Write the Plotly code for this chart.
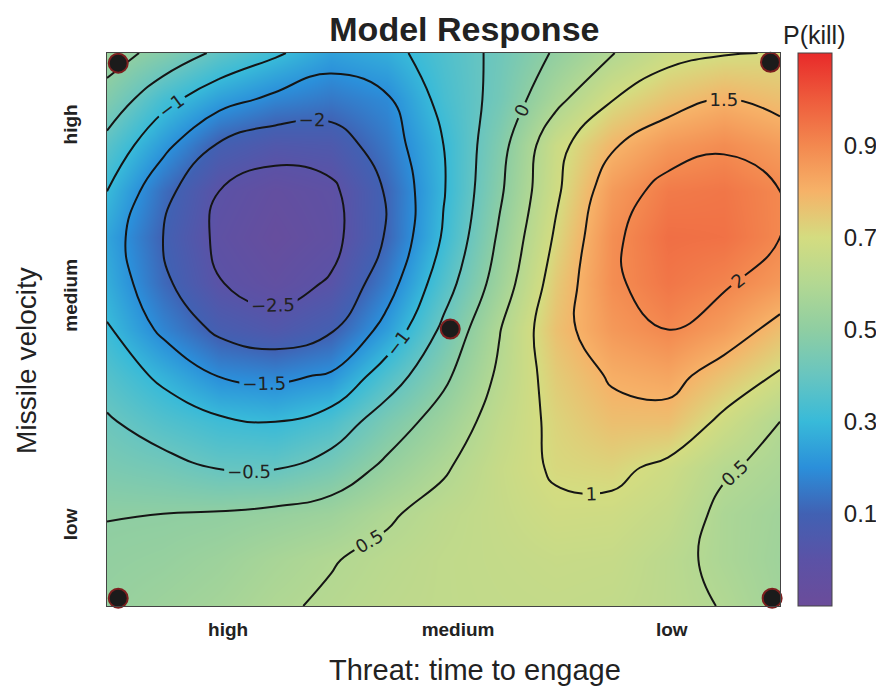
import plotly.graph_objects as go

# ---------------- data ----------------
# grid columns / rows (plot-area units: 0 = left/bottom edge, 12 = right/top edge)
x_pos = [0, 1, 2, 3, 4, 5, 6, 7, 8, 9, 10, 11, 12]
y_pos = [0, 1, 2, 3, 4, 5, 6, 7, 8, 9, 10, 11, 12]

# response surface, rows listed from the TOP edge down to the BOTTOM edge
z_top_to_bottom = [
    [0.20, -0.15, -0.60, -0.93, -1.30, -1.15, -0.75, -0.40, 0.05, 0.48, 0.86, 0.97, 1.02],
    [-0.17, -0.85, -1.31, -1.60, -1.75, -1.55, -0.84, -0.35, 0.37, 0.98, 1.30, 1.50, 1.35],
    [-0.65, -1.37, -2.05, -2.30, -2.25, -1.75, -1.00, -0.17, 0.85, 1.45, 1.80, 1.95, 1.75],
    [-1.00, -1.85, -2.50, -2.75, -2.60, -1.95, -1.03, -0.07, 0.92, 1.78, 2.15, 2.20, 2.00],
    [-1.25, -2.00, -2.60, -2.85, -2.65, -1.95, -0.95, 0.07, 1.06, 1.92, 2.28, 2.25, 2.00],
    [-1.15, -1.90, -2.48, -2.70, -2.45, -1.70, -0.72, 0.22, 1.22, 1.93, 2.20, 2.05, 1.80],
    [-0.97, -1.60, -2.10, -2.30, -2.05, -1.33, -0.40, 0.48, 1.33, 1.80, 2.00, 1.75, 1.35],
    [-0.70, -1.10, -1.52, -1.60, -1.45, -0.75, -0.10, 0.58, 1.20, 1.55, 1.65, 1.30, 0.95],
    [-0.45, -0.72, -0.92, -1.00, -0.78, -0.25, 0.20, 0.71, 1.10, 1.35, 1.35, 0.90, 0.50],
    [-0.25, -0.35, -0.52, -0.53, -0.30, 0.10, 0.45, 0.80, 1.05, 1.10, 0.90, 0.55, 0.38],
    [-0.01, 0.00, 0.03, 0.10, 0.20, 0.45, 0.65, 0.78, 0.92, 0.90, 0.75, 0.40, 0.25],
    [0.05, 0.10, 0.20, 0.35, 0.48, 0.60, 0.70, 0.75, 0.80, 0.78, 0.62, 0.40, 0.22],
    [0.10, 0.20, 0.30, 0.45, 0.55, 0.65, 0.70, 0.73, 0.75, 0.72, 0.62, 0.48, 0.25],
]
z_grid = z_top_to_bottom[::-1]

# design points (corners + centre)
design_x = [0.20, 11.83, 0.20, 11.86, 6.12]
design_y = [11.78, 11.80, 0.17, 0.17, 6.01]

# axis tick labels
x_tick_vals = [2.16, 6.26, 10.07]
x_tick_text = ["high", "medium", "low"]
y_tick_vals = [1.71, 6.68, 10.39]
y_tick_text = ["low", "medium", "high"]

# colour bar: P(kill) labels and the surface values they sit at
pkill_labels = ["0.1", "0.3", "0.5", "0.7", "0.9"]
pkill_at_z = [-2, -1, 0, 1, 2]
z_min, z_max = -3.0, 3.0

colorscale = [
    [0.0, "#6b4c9a"], [0.0833, "#5b52a6"], [0.1667, "#4161b3"], [0.25, "#2b8fda"],
    [0.3333, "#38bad9"], [0.4167, "#68c5c0"], [0.5, "#8fcea2"], [0.5833, "#b3d892"],
    [0.6667, "#d4dc80"], [0.75, "#f6b268"], [0.8333, "#f3884f"], [0.9167, "#ee5b3c"],
    [1.0, "#e82a2a"],
]

FONT = "Liberation Sans, Arial, sans-serif"

# colour-bar geometry (paper units of the plot area)
CB_X0 = 1.02675          # left edge of the bar
CB_X1 = 1.0773           # right edge of the bar
DASH = 0.0170            # length of each tick dash

fig = go.Figure()

# smooth colour field + colour bar
fig.add_trace(go.Heatmap(
    x=x_pos, y=y_pos, z=z_grid, zsmooth="best",
    zmin=z_min, zmax=z_max, zauto=False,
    colorscale=colorscale,
    colorbar=dict(
        thickness=34, thicknessmode="pixels",
        len=1, lenmode="fraction", y=0.5, yanchor="middle", ypad=0,
        x=CB_X0, xanchor="left", xpad=0,
        outlinewidth=1, outlinecolor="#444444",
        tickvals=pkill_at_z, ticktext=pkill_labels,
        ticks="outside", ticklen=7, tickcolor="rgba(0,0,0,0)",
        tickfont=dict(size=24, color="#222222", family=FONT),
    ),
    hoverinfo="skip",
))

# contour lines with inline labels
fig.add_trace(go.Contour(
    x=x_pos, y=y_pos, z=z_grid,
    showscale=False,
    contours=dict(start=-2.5, end=2.0, size=0.5, coloring="none",
                  showlabels=True,
                  labelfont=dict(size=18, color="#222222", family="DejaVu Sans")),
    line=dict(color="#151515", width=2, smoothing=1.3),
    hoverinfo="skip",
))

fig.add_trace(go.Scatter(
    x=design_x, y=design_y, mode="markers",
    marker=dict(size=19, color="#1b1b1b", line=dict(color="#7d1f1f", width=2)),
    showlegend=False, cliponaxis=False, hoverinfo="skip",
))

# colour-bar tick dashes on both sides of the bar
shapes = []
for v in pkill_at_z:
    f = (v - z_min) / (z_max - z_min)
    shapes.append(dict(type="line", xref="paper", yref="paper",
                       x0=CB_X0, x1=CB_X0 + DASH, y0=f, y1=f,
                       line=dict(color="#333333", width=1.5)))
    shapes.append(dict(type="line", xref="paper", yref="paper",
                       x0=CB_X1 - DASH, x1=CB_X1, y0=f, y1=f,
                       line=dict(color="#333333", width=1.5)))

# the page body adds an 8 px margin, so the figure is 8 px smaller than the window
fig.update_layout(
    width=876, height=678, autosize=False,
    margin=dict(l=99, r=104, t=45, b=80, autoexpand=False),
    paper_bgcolor="white", plot_bgcolor="white",
    showlegend=False,
    font=dict(family=FONT, color="#222222"),
    title=dict(text="<b>Model Response</b>", x=0.521, xanchor="center",
               y=1 - 21 / 678, yanchor="middle", yref="container",
               font=dict(size=34, color="#222222", family=FONT)),
    xaxis=dict(range=[0, 12], showgrid=False, zeroline=False,
               showline=True, mirror=True, linecolor="#444444", linewidth=1,
               tickvals=x_tick_vals, ticktext=x_tick_text, ticks="",
               tickfont=dict(size=19, color="#222222", family=FONT, weight="bold"),
               ticklabelstandoff=6),
    yaxis=dict(range=[0, 12], showgrid=False, zeroline=False,
               showline=True, mirror=True, linecolor="#444444", linewidth=1,
               tickvals=y_tick_vals, ticktext=y_tick_text, ticks="", tickangle=-90,
               tickfont=dict(size=19, color="#222222", family=FONT, weight="bold"),
               ticklabelstandoff=21),
    shapes=shapes,
    annotations=[
        dict(text="P(kill)", xref="paper", yref="paper",
             x=1.052, y=1.0325, xanchor="center", yanchor="middle",
             showarrow=False, font=dict(size=25, color="#222222", family=FONT)),
        dict(text="Threat: time to engage", xref="paper", yref="paper",
             x=0.5468, y=-0.1157, xanchor="center", yanchor="middle",
             showarrow=False, font=dict(size=29, color="#222222", family=FONT)),
        dict(text="Missile velocity", xref="paper", yref="paper",
             x=-0.1189, y=0.445, xanchor="center", yanchor="middle", textangle=-90,
             showarrow=False, font=dict(size=28, color="#222222", family=FONT)),
    ],
)

fig.write_html("out.html")
